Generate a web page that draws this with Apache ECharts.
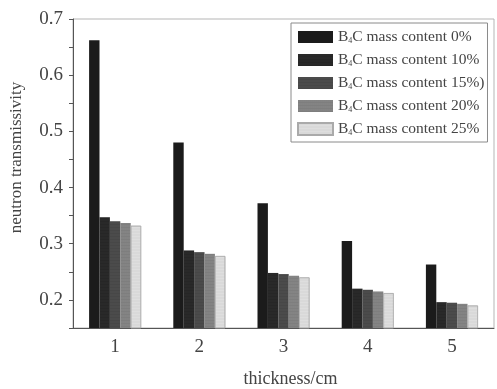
<!DOCTYPE html>
<html>
<head>
<meta charset="utf-8">
<script src="https://cdn.jsdelivr.net/npm/echarts@6/dist/echarts.min.js"></script>
<style>html,body{margin:0;padding:0;background:#fff}#c{width:497px;height:389px}</style>
</head>
<body>
<div id="c"></div>
<script>
var categories = ['1', '2', '3', '4', '5'];
var seriesNames = ['0%', '10%', '15%)', '20%', '25%'];
var content0 = [0.662, 0.480, 0.372, 0.305, 0.263];
var content10 = [0.347, 0.288, 0.248, 0.220, 0.196];
var content15 = [0.340, 0.285, 0.246, 0.218, 0.195];
var content20 = [0.337, 0.282, 0.243, 0.215, 0.193];
var content25 = [0.332, 0.278, 0.240, 0.212, 0.190];
var yTicks = [0.2, 0.3, 0.4, 0.5, 0.6, 0.7];

var FONT = '"Liberation Serif", "DejaVu Serif", serif';
var colors = ['#1b1b1b', '#262626', '#474747', '#7e7e7e', '#dedede'];
var decals = [
  null,
  {symbol: 'rect', symbolSize: 0.5, color: 'rgba(70,70,70,0.5)', dashArrayX: [2, 0], dashArrayY: [2, 1]},
  {symbol: 'rect', symbolSize: 0.5, color: 'rgba(110,110,110,0.5)', dashArrayX: [2, 0], dashArrayY: [2, 1]},
  {symbol: 'rect', symbolSize: 0.6, color: 'rgba(170,170,170,0.5)', dashArrayX: [2, 0], dashArrayY: [2, 1]},
  {symbol: 'rect', symbolSize: 0.5, color: 'rgba(190,190,190,0.6)', dashArrayX: [2, 0], dashArrayY: [2, 1]}
];
var values = [content0, content10, content15, content20, content25];

var series = values.map(function (v, i) {
  var s = {
    name: seriesNames[i],
    type: 'bar',
    data: v,
    barWidth: 10.4,
    barGap: '0%',
    xAxisIndex: 0,
    itemStyle: {color: colors[i], borderColor: i === 4 ? '#aaa' : colors[i], borderWidth: i === 4 ? 0.6 : 0}
  };
  if (decals[i]) s.itemStyle.decal = decals[i];
  return s;
});

var chart = echarts.init(document.getElementById('c'), null, {renderer: 'canvas'});
chart.setOption({
  animation: false,
  backgroundColor: '#fff',
  grid: {left: 73, right: 3, top: 19, bottom: 61, show: true, borderColor: '#b5b5b5', borderWidth: 1, containLabel: false, outerBoundsMode: 'none'},
  legend: {
    orient: 'vertical',
    left: 291,
    top: 23,
    icon: 'rect',
    itemWidth: 35,
    itemHeight: 12,
    itemGap: 7,
    padding: [6, 3, 5, 6],
    borderColor: '#8a8a8a',
    borderWidth: 1,
    backgroundColor: '#fff',
    data: seriesNames,
    formatter: function (n) { return 'B{s|4}C mass content ' + n; },
    textStyle: {
      fontFamily: FONT, fontSize: 15.5, color: '#444',
      rich: {s: {fontFamily: FONT, fontSize: 8, color: '#444', verticalAlign: 'bottom', padding: [7, 0, 0, 0]}}
    }
  },
  xAxis: [{
    type: 'category',
    data: categories,
    name: 'thickness/cm',
    nameLocation: 'middle',
    nameGap: 42,
    nameTextStyle: {fontFamily: FONT, fontSize: 18, color: '#444', padding: [0, 0, 0, 14]},
    axisLine: {lineStyle: {color: '#555', width: 1}},
    axisTick: {alignWithLabel: true, length: 5, lineStyle: {color: '#555'}},
    axisLabel: {fontFamily: FONT, fontSize: 19, color: '#444', margin: 10},
    splitLine: {show: false}
  }, {
    type: 'category',
    data: categories,
    position: 'bottom',
    axisLine: {show: false},
    axisTick: {length: 3, lineStyle: {color: '#555'}},
    axisLabel: {show: false},
    splitLine: {show: false}
  }],
  yAxis: {
    type: 'value',
    min: 0.15,
    max: 0.7,
    interval: 0.05,
    name: 'neutron transmissivity',
    nameLocation: 'middle',
    nameGap: 48,
    nameTextStyle: {fontFamily: FONT, fontSize: 17, color: '#444', padding: [0, 0, 0, 32]},
    axisLine: {show: true, lineStyle: {color: '#555', width: 1}},
    axisTick: {show: true, length: 4, lineStyle: {color: '#555'}},
    axisLabel: {
      fontFamily: FONT, fontSize: 19, color: '#444', margin: 10,
      formatter: function (v) {
        for (var i = 0; i < yTicks.length; i++) {
          if (Math.abs(v - yTicks[i]) < 1e-6) return yTicks[i].toFixed(1);
        }
        return '';
      }
    },
    splitLine: {show: false}
  },
  series: series
});
</script>
</body>
</html>
